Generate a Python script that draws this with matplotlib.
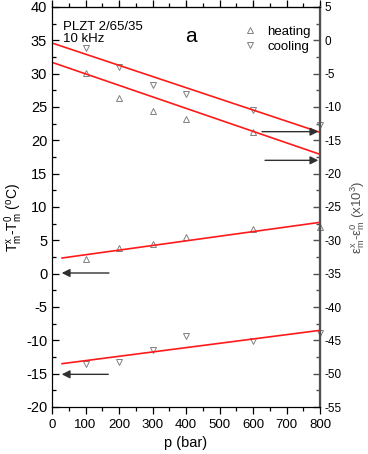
import numpy as np
import matplotlib.pyplot as plt
from matplotlib.ticker import MultipleLocator

plt.rcParams['font.family'] = ['Liberation Sans', 'DejaVu Sans']
plt.rcParams['mathtext.default'] = 'regular'
plt.rcParams['mathtext.fontset'] = 'custom'
plt.rcParams['mathtext.rm'] = 'Liberation Sans'
plt.rcParams['axes.unicode_minus'] = False

# pressure points (bar)
p = [100, 200, 300, 400, 600, 800]
p_eps_heat = [100, 200, 300, 400, 600]

# strain shift (right axis, x10^3)
eps_cool = [-1.2, -4.0, -6.7, -8.0, -10.5, -12.7]
eps_heat = [-4.9, -8.6, -10.6, -11.8, -13.8]
eps_fit_p = [0, 800]
eps_cool_fit = [-0.4, -13.8]
eps_heat_fit = [-3.3, -17.1]

# temperature shift (left axis, degC)
T_heat = [2.25, 3.85, 4.45, 5.5, 6.7, 7.0]
T_cool = [-13.5, -13.3, -11.5, -9.4, -10.05, -8.9]
T_fit_p = [30, 800]
T_heat_fit = [2.35, 7.7]
T_cool_fit = [-13.5, -8.5]

mk = dict(ls='none', ms=4, mfc='none', mec='#808080', mew=0.7, clip_on=False)
red = '#ff1a1a'

fig = plt.figure(figsize=(3.68, 4.54), dpi=100)
ax = fig.add_axes([52/368, 1-407/454, 268/368, 400/454])
ax2 = ax.twinx()

ax.set_xlim(0, 800)
ax.set_ylim(-20, 40)
ax2.set_ylim(-55, 5)

# left axis data
ax.plot(p, T_heat, marker='^', **mk)
ax.plot(p, T_cool, marker='v', **mk)
ax.plot(T_fit_p, T_heat_fit, color=red, lw=1.2)
ax.plot(T_fit_p, T_cool_fit, color=red, lw=1.2)

# right axis data
h1, = ax2.plot(p_eps_heat, eps_heat, marker='^', label='heating', **mk)
h2, = ax2.plot(p, eps_cool, marker='v', label='cooling', **mk)
ax2.plot(eps_fit_p, eps_cool_fit, color=red, lw=1.2)
ax2.plot(eps_fit_p, eps_heat_fit, color=red, lw=1.2)

# arrows showing which axis each pair belongs to
arw = dict(arrowstyle='-|>', color='#303030', lw=1.0, mutation_scale=12,
           shrinkA=0, shrinkB=0)
ax.annotate('', xy=(29, 0.1), xytext=(170, 0.1), arrowprops=arw)
ax.annotate('', xy=(29, -15.1), xytext=(168, -15.1), arrowprops=arw)
ax2.annotate('', xy=(795, -13.7), xytext=(627, -13.7), arrowprops=arw)
ax2.annotate('', xy=(795, -18.0), xytext=(636, -18.0), arrowprops=arw)

# ticks
ax.xaxis.set_major_locator(MultipleLocator(100))
ax.xaxis.set_minor_locator(MultipleLocator(50))
ax.yaxis.set_major_locator(MultipleLocator(5))
ax.yaxis.set_minor_locator(MultipleLocator(2.5))
ax2.yaxis.set_major_locator(MultipleLocator(5))
ax2.yaxis.set_minor_locator(MultipleLocator(2.5))
ax.tick_params(axis='x', which='both', direction='out', labelsize=9.5, top=True)
ax.tick_params(axis='y', which='both', direction='in', labelsize=10.5)
ax.tick_params(which='major', length=5, width=0.9)
ax.tick_params(which='minor', length=3, width=0.9)
ax2.tick_params(which='both', direction='in', labelsize=8.5, color='#505050')
ax2.tick_params(which='major', length=5, width=1.0)
ax2.tick_params(which='minor', length=3, width=1.0)
ax.secondary_xaxis('top').tick_params(labeltop=False)
ax2.spines['right'].set_color('#505050')
ax2.spines['right'].set_linewidth(1.6)

ax.set_xlabel('p (bar)', fontsize=10.5)
ax.set_ylabel('T$_m^x$-T$_m^0$ ($^o$C)', fontsize=10)
ax.yaxis.set_label_coords(-0.102, 0.475)
ax2.set_ylabel('ε$_m^x$-ε$_m^0$ (x10$^3$)', fontsize=9.5, color='#505050')
ax2.yaxis.set_label_coords(1.105, 0.475)

ax.text(0.04, 0.965, 'PLZT 2/65/35\n10 kHz', transform=ax.transAxes,
        fontsize=9.5, va='top', ha='left', linespacing=1.05)
ax.text(0.52, 0.925, 'a', transform=ax.transAxes, fontsize=15, ha='center', va='center')

ax2.legend(handles=[h1, h2], loc='upper right', bbox_to_anchor=(0.99, 0.97),
           frameon=False, fontsize=9.5, handlelength=1.0, handletextpad=0.8,
           labelspacing=0.2, borderpad=0)

fig.savefig('out.png', dpi=100)
